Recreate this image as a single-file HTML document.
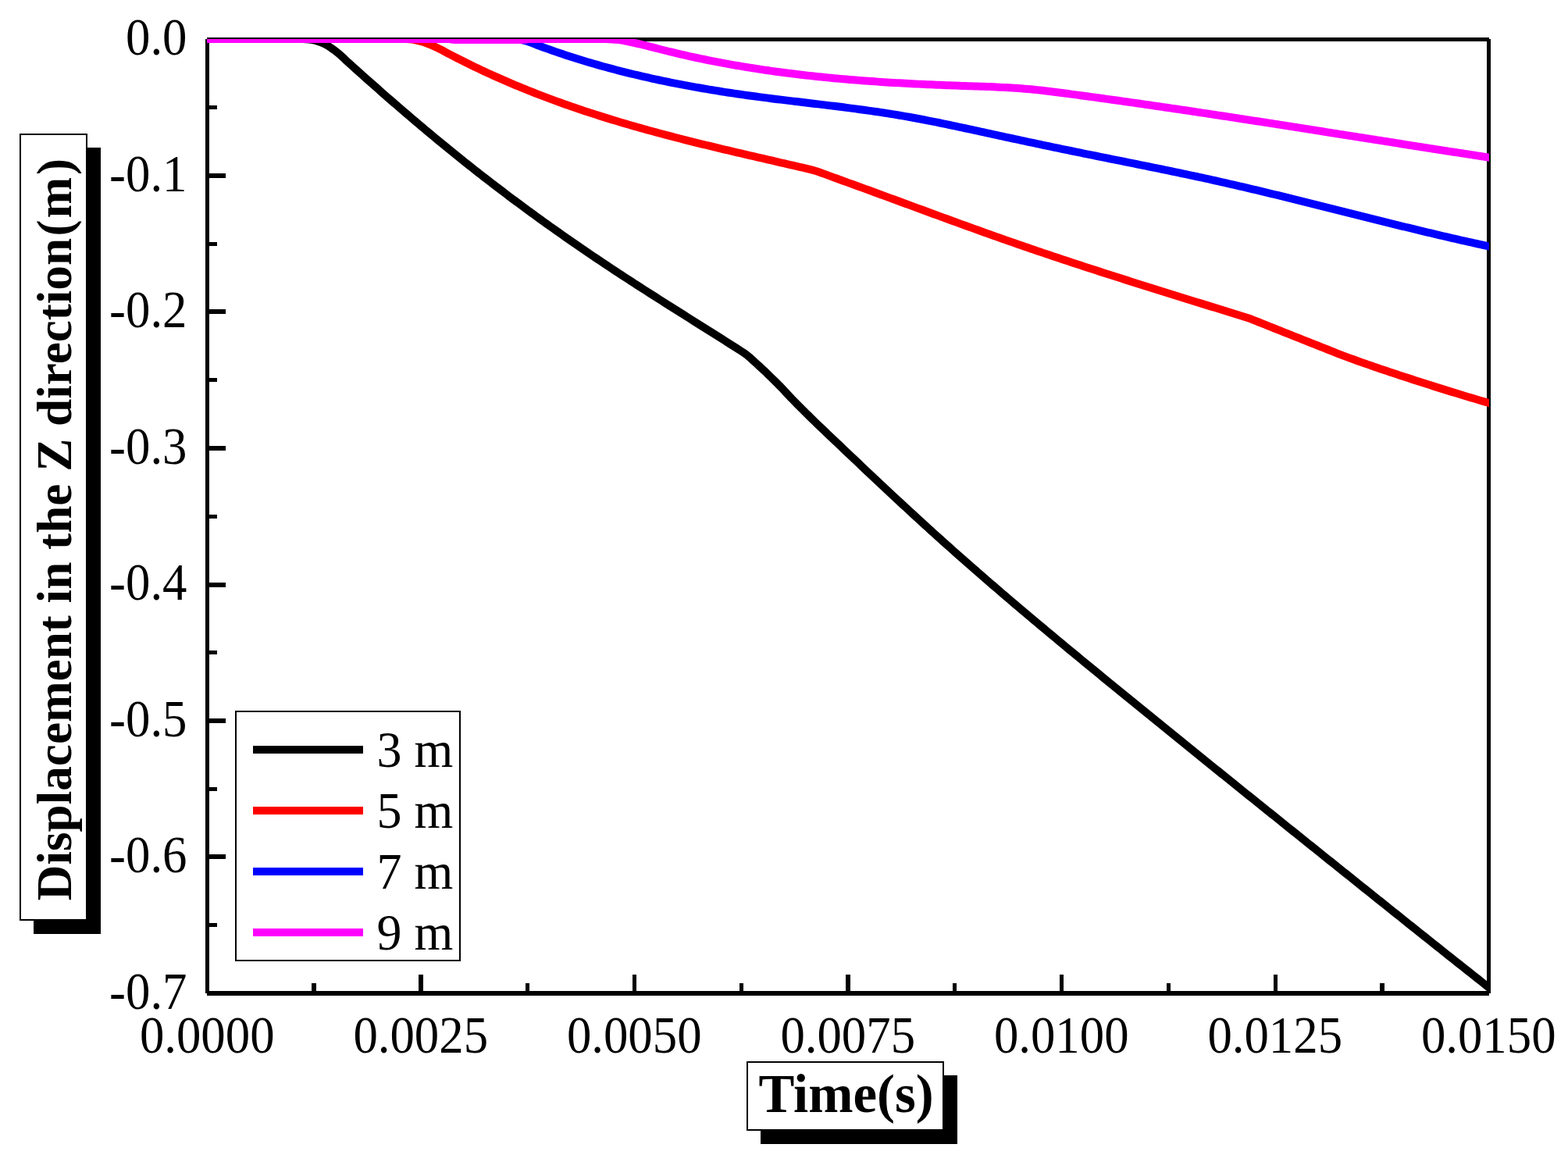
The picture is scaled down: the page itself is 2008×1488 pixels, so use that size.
<!DOCTYPE html>
<html lang="en">
<head>
<meta charset="utf-8">
<title>Displacement in the Z direction vs Time</title>
<style>
html,body{margin:0;padding:0;background:#fff;}
body{width:2008px;height:1488px;overflow:hidden;}
svg{display:block;}
text{font-family:"Liberation Serif","Times New Roman",serif;fill:#000;}
.tick{font-size:66.8px;}
.leg{font-size:65px;}
.b{font-weight:bold;}
</style>
</head>
<body>
<svg xmlns="http://www.w3.org/2000/svg" width="2008" height="1488" viewBox="0 0 2008 1488">
<rect x="0" y="0" width="2008" height="1488" fill="#fff"/>
<defs><clipPath id="plot"><rect x="265" y="50" width="1642" height="1222"/></clipPath></defs>
<g shape-rendering="crispEdges" fill="#000">
<rect x="263" y="50" width="5" height="1222"/>
<rect x="1904" y="50" width="5" height="1222"/>
<rect x="265" y="48" width="1642" height="5"/>
<rect x="265" y="1269" width="1642" height="6"/>
<rect x="268" y="135" width="10" height="5"/>
<rect x="268" y="222" width="21" height="6"/>
<rect x="268" y="310" width="10" height="5"/>
<rect x="268" y="396" width="21" height="6"/>
<rect x="268" y="484" width="10" height="5"/>
<rect x="268" y="571" width="21" height="6"/>
<rect x="268" y="659" width="10" height="5"/>
<rect x="268" y="746" width="21" height="6"/>
<rect x="268" y="833" width="10" height="5"/>
<rect x="268" y="920" width="21" height="6"/>
<rect x="268" y="1008" width="10" height="5"/>
<rect x="268" y="1094" width="21" height="6"/>
<rect x="268" y="1182" width="10" height="5"/>
<rect x="399" y="1259" width="6" height="10"/>
<rect x="536" y="1248" width="6" height="21"/>
<rect x="673" y="1259" width="5" height="10"/>
<rect x="810" y="1248" width="5" height="21"/>
<rect x="947" y="1259" width="5" height="10"/>
<rect x="1083" y="1248" width="6" height="21"/>
<rect x="1220" y="1259" width="5" height="10"/>
<rect x="1357" y="1248" width="5" height="21"/>
<rect x="1494" y="1259" width="5" height="10"/>
<rect x="1631" y="1248" width="5" height="21"/>
<rect x="1767" y="1259" width="6" height="10"/>
</g>
<g clip-path="url(#plot)" fill="none" stroke-width="10" stroke-linejoin="round" stroke-linecap="butt">
<path d="M240 50L265.5 50L384 50L388 50.03L392 50.24L396 50.59L400 51.07L404 51.95L408 53.18L412 54.62L416 56.36L420 58.67L424 61.32L428 64.13L432 67.23L436 70.61L440 74.27L443.7 77.9L448 81.78L452 85.38L456 88.98L460 92.56L464 96.14L468 99.7L472 103.26L476 106.81L480 110.34L484 113.87L488 117.39L492 120.89L496 124.39L500 127.88L504 131.35L508 134.82L512 138.27L516 141.71L520 145.15L524 148.57L528 151.98L532 155.37L536 158.76L540 162.13L544 165.5L548 168.85L552 172.18L556 175.51L560 178.82L564 182.12L568 185.41L572 188.69L576 191.95L580 195.2L584 198.43L588 201.65L592 204.86L596 208.05L600 211.24L604 214.4L608 217.56L612 220.7L616 223.82L620 226.94L624 230.04L628 233.13L632 236.2L636 239.27L640 242.31L644 245.35L648 248.38L652 251.39L656 254.39L660 257.37L664 260.35L668 263.31L672 266.26L676 269.2L680 272.13L684 275.04L688 277.95L692 280.84L696 283.72L700 286.59L704 289.45L708 292.29L712 295.13L716 297.95L720 300.76L724 303.56L728 306.36L732 309.13L736 311.9L740 314.66L744 317.41L748 320.15L752 322.88L756 325.59L760 328.3L764 331L768 333.68L772 336.36L776 339.03L780 341.68L784 344.33L788 346.97L792 349.6L796 352.22L800 354.83L804 357.43L808 360.03L812 362.62L816 365.2L820 367.77L824 370.34L828 372.91L832 375.47L836 378.02L840 380.57L844 383.11L848 385.65L852 388.19L856 390.72L860 393.25L864 395.78L868 398.3L872 400.82L876 403.34L880 405.86L884 408.38L888 410.9L892 413.42L896 415.94L900 418.46L904 420.98L908 423.5L912 426.02L916 428.54L920 431.07L924 433.6L928 436.13L932 438.67L936 441.21L940 443.75L944 446.3L948 448.85L952.3 451.6L956 454.24L960 457.57L964 461.2L968 464.83L972 468.53L976 472.22L980 475.95L984 479.81L988 483.73L992 487.66L996 491.59L1000 495.6L1004 499.95L1008 504.23L1012 508.45L1016 512.61L1020 516.72L1024 520.77L1028 524.78L1032 528.76L1036 532.69L1040 536.59L1044 540.47L1048 544.32L1052 548.15L1056 551.97L1060 555.78L1064 559.59L1068 563.39L1072 567.19L1076 570.99L1080 574.79L1084 578.59L1088 582.38L1092 586.17L1096 589.96L1100 593.74L1104 597.52L1108 601.3L1112 605.07L1116 608.84L1120 612.6L1124 616.36L1128 620.11L1132 623.86L1136 627.6L1140 631.33L1144 635.06L1148 638.79L1152 642.5L1156 646.21L1160 649.91L1164 653.61L1168 657.29L1172 660.97L1176 664.64L1180 668.3L1184 671.95L1188 675.59L1192 679.22L1196 682.85L1200 686.46L1204 690.06L1208 693.66L1212 697.24L1216 700.81L1220 704.37L1224 707.93L1228 711.47L1232 715.01L1236 718.53L1240 722.05L1244 725.56L1248 729.06L1252 732.55L1256 736.03L1260 739.5L1264 742.97L1268 746.43L1272 749.88L1276 753.32L1280 756.76L1284 760.19L1288 763.61L1292 767.02L1296 770.43L1300 773.83L1304 777.23L1308 780.62L1312 784L1316 787.37L1320 790.75L1324 794.11L1328 797.47L1332 800.82L1336 804.17L1340 807.52L1344 810.85L1348 814.19L1352 817.52L1356 820.84L1360 824.16L1364 827.48L1368 830.79L1372 834.1L1376 837.41L1380 840.71L1384 844L1388 847.3L1392 850.59L1396 853.88L1400 857.17L1404 860.45L1408 863.73L1412 867.01L1416 870.29L1420 873.56L1424 876.83L1428 880.1L1432 883.37L1436 886.64L1440 889.91L1444 893.17L1448 896.44L1452 899.7L1456 902.96L1460 906.22L1464 909.47L1468 912.73L1472 915.98L1476 919.24L1480 922.49L1484 925.74L1488 928.99L1492 932.23L1496 935.48L1500 938.73L1504 941.97L1508 945.21L1512 948.45L1516 951.69L1520 954.93L1524 958.17L1528 961.41L1532 964.64L1536 967.88L1540 971.11L1544 974.34L1548 977.57L1552 980.8L1556 984.03L1560 987.26L1564 990.49L1568 993.71L1572 996.94L1576 1000.16L1580 1003.39L1584 1006.61L1588 1009.83L1592 1013.05L1596 1016.27L1600 1019.49L1604 1022.71L1608 1025.93L1612 1029.14L1616 1032.36L1620 1035.58L1624 1038.79L1628 1042.01L1632 1045.22L1636 1048.43L1640 1051.64L1644 1054.86L1648 1058.07L1652 1061.28L1656 1064.49L1660 1067.7L1664 1070.91L1668 1074.12L1672 1077.33L1676 1080.53L1680 1083.74L1684 1086.95L1688 1090.16L1692 1093.36L1696 1096.57L1700 1099.78L1704 1102.98L1708 1106.19L1712 1109.39L1716 1112.6L1720 1115.8L1724 1119.01L1728 1122.21L1732 1125.42L1736 1128.62L1740 1131.82L1744 1135.03L1748 1138.23L1752 1141.44L1756 1144.64L1760 1147.84L1764 1151.04L1768 1154.24L1772 1157.44L1776 1160.64L1780 1163.84L1784 1167.04L1788 1170.24L1792 1173.44L1796 1176.63L1800 1179.83L1804 1183.03L1808 1186.22L1812 1189.41L1816 1192.61L1820 1195.8L1824 1198.99L1828 1202.18L1832 1205.36L1836 1208.55L1840 1211.74L1844 1214.92L1848 1218.11L1852 1221.29L1856 1224.47L1860 1227.65L1864 1230.83L1868 1234L1872 1237.18L1876 1240.35L1880 1243.53L1884 1246.7L1888 1249.86L1892 1253.03L1896 1256.2L1900 1259.36L1904 1262.52L1906.5 1264.5L1930 1283.07" stroke="#000000"/>
<path d="M240 50L265.5 50L512 50L516 50L520 50.09L524 50.26L528 50.61L532 51.32L536 52.26L540 53.3L544 54.52L548 56.02L552 57.68L556 59.39L560 61.22L564 63.17L568 65.26L572.6 67.8L576 69.59L580 71.68L584 73.74L588 75.79L592 77.81L596 79.81L600 81.78L604 83.74L608 85.68L612 87.59L616 89.49L620 91.36L624 93.22L628 95.05L632 96.87L636 98.66L640 100.44L644 102.2L648 103.93L652 105.65L656 107.35L660 109.04L664 110.7L668 112.35L672 113.98L676 115.59L680 117.19L684 118.77L688 120.33L692 121.88L696 123.4L700 124.92L704 126.41L708 127.9L712 129.36L716 130.81L720 132.25L724 133.67L728 135.08L732 136.47L736 137.85L740 139.21L744 140.56L748 141.9L752 143.22L756 144.53L760 145.83L764 147.11L768 148.38L772 149.64L776 150.89L780 152.12L784 153.35L788 154.56L792 155.76L796 156.95L800 158.13L804 159.3L808 160.46L812 161.61L816 162.75L820 163.88L824 165L828 166.11L832 167.21L836 168.3L840 169.38L844 170.46L848 171.53L852 172.59L856 173.64L860 174.69L864 175.72L868 176.75L872 177.78L876 178.79L880 179.8L884 180.81L888 181.81L892 182.8L896 183.79L900 184.77L904 185.75L908 186.72L912 187.69L916 188.65L920 189.61L924 190.57L928 191.52L932 192.47L936 193.41L940 194.35L944 195.29L948 196.23L952 197.16L956 198.09L960 199.02L964 199.95L968 200.88L972 201.8L976 202.73L980 203.65L984 204.57L988 205.49L992 206.42L996 207.34L1000 208.26L1004 209.18L1008 210.11L1012 211.03L1016 211.96L1020 212.88L1024 213.81L1028 214.74L1032 215.67L1036 216.61L1038.1 217.1L1040 217.6L1044 218.74L1048 220.02L1052 221.44L1056 222.88L1060 224.34L1064 225.82L1068 227.32L1070.6 228.3L1076 230.24L1080 231.69L1084 233.13L1088 234.58L1092 236.03L1096 237.49L1100 238.94L1104 240.4L1108 241.86L1112 243.32L1116 244.79L1120 246.25L1124 247.72L1128 249.18L1132 250.65L1136 252.12L1140 253.59L1144 255.06L1148 256.53L1152 258.01L1156 259.48L1160 260.95L1164 262.42L1168 263.9L1172 265.37L1176 266.84L1180 268.31L1184 269.78L1188 271.25L1192 272.72L1196 274.19L1200 275.66L1204 277.12L1208 278.58L1212 280.05L1216 281.51L1220 282.97L1224 284.42L1228 285.88L1232 287.33L1236 288.78L1240 290.23L1244 291.67L1248 293.11L1252 294.55L1256 295.99L1260 297.42L1264 298.85L1268 300.28L1272 301.7L1276 303.12L1280 304.53L1284 305.94L1288 307.35L1292 308.75L1296 310.15L1300 311.54L1304 312.93L1308 314.32L1312 315.7L1316 317.07L1320 318.44L1324 319.81L1328 321.17L1332 322.53L1336 323.88L1340 325.23L1344 326.58L1348 327.92L1352 329.26L1356 330.59L1360 331.92L1364 333.25L1368 334.57L1372 335.89L1376 337.21L1380 338.52L1384 339.83L1388 341.14L1392 342.44L1396 343.74L1400 345.04L1404 346.34L1408 347.63L1412 348.92L1416 350.2L1420 351.49L1424 352.77L1428 354.05L1432 355.32L1436 356.6L1440 357.87L1444 359.14L1448 360.41L1452 361.67L1456 362.94L1460 364.2L1464 365.46L1468 366.72L1472 367.97L1476 369.23L1480 370.48L1484 371.73L1488 372.98L1492 374.23L1496 375.48L1500 376.72L1504 377.97L1508 379.21L1512 380.46L1516 381.7L1520 382.94L1524 384.18L1528 385.42L1532 386.66L1536 387.9L1540 389.14L1544 390.37L1548 391.61L1552 392.85L1556 394.09L1560 395.32L1564 396.56L1568 397.8L1572 399.03L1576 400.27L1580 401.51L1584 402.75L1588 403.98L1592 405.22L1596 406.46L1600 407.7L1604 409.3L1608 410.9L1612 412.5L1616 414.1L1620 415.7L1624 417.29L1628 418.89L1632 420.49L1636 422.08L1640 423.67L1644 425.27L1648 426.86L1652 428.45L1656 430.04L1660 431.63L1664 433.22L1668 434.81L1672 436.4L1676 437.98L1680 439.57L1684 441.16L1688 442.74L1692 444.33L1696 445.92L1700 447.5L1704 449.1L1708 450.71L1712 452.31L1716 453.88L1720 455.4L1724 456.88L1728 458.35L1732 459.8L1736 461.25L1740 462.68L1744 464.1L1748 465.5L1752 466.9L1756 468.29L1760 469.67L1764 471.04L1768 472.4L1772 473.75L1776 475.09L1780 476.43L1784 477.76L1788 479.08L1792 480.4L1796 481.71L1800 483.02L1804 484.32L1808 485.62L1812 486.92L1816 488.21L1820 489.5L1824 490.79L1828 492.07L1832 493.34L1836 494.61L1840 495.87L1844 497.13L1848 498.38L1852 499.63L1856 500.87L1860 502.1L1864 503.33L1868 504.55L1872 505.76L1876 506.97L1880 508.18L1884 509.37L1888 510.57L1892 511.75L1896 512.93L1900 514.11L1904 515.27L1906.5 516L1930 522.83" stroke="#ff0000"/>
<path d="M240 50L265.5 50L568 50L572 50L576 50L580 50L584 50L588 50L592 50L596 50L600 50L604 50L608 50L612 50L616 50L620 50L624 50L628 50L632 50L636 50L640 50L644 50L648 50L652 50L656 50.08L660 50.28L664 50.57L668 51.15L672 52.02L676 53.16L680 54.53L684 56.12L686.5 57.2L692 59.24L696 60.7L700 62.15L704 63.57L708 64.97L712 66.36L716 67.72L720 69.07L724 70.39L728 71.7L732 72.99L736 74.27L740 75.52L744 76.76L748 77.98L752 79.18L756 80.36L760 81.53L764 82.68L768 83.82L772 84.94L776 86.04L780 87.12L784 88.19L788 89.25L792 90.29L796 91.31L800 92.32L804 93.32L808 94.3L812 95.26L816 96.22L820 97.15L824 98.08L828 98.99L832 99.88L836 100.77L840 101.64L844 102.5L848 103.34L852 104.17L856 104.99L860 105.8L864 106.6L868 107.38L872 108.15L876 108.91L880 109.66L884 110.4L888 111.13L892 111.85L896 112.55L900 113.25L904 113.93L908 114.6L912 115.27L916 115.92L920 116.56L924 117.2L928 117.82L932 118.44L936 119.04L940 119.64L944 120.23L948 120.81L952 121.38L956 121.94L960 122.49L964 123.04L968 123.58L972 124.11L976 124.63L980 125.15L984 125.66L988 126.17L992 126.67L996 127.17L1000 127.66L1004 128.15L1008 128.63L1012 129.12L1016 129.6L1020 130.08L1024 130.55L1028 131.03L1032 131.51L1036 131.98L1040 132.46L1044 132.93L1048 133.41L1052 133.89L1056 134.37L1060 134.86L1064 135.34L1068 135.83L1072 136.33L1076 136.83L1080 137.33L1084 137.84L1088 138.35L1092 138.88L1096 139.4L1100 139.94L1104 140.48L1108 141.03L1112 141.59L1116 142.15L1120 142.73L1124 143.31L1128 143.91L1132 144.51L1136 145.13L1140 145.76L1144 146.4L1148 147.05L1152 147.72L1156 148.4L1160 149.09L1164 149.79L1168 150.51L1172 151.25L1176 151.99L1180 152.75L1184 153.51L1188 154.29L1192 155.08L1196 155.88L1200 156.69L1204 157.5L1208 158.32L1212 159.15L1216 159.99L1220 160.83L1224 161.68L1228 162.53L1232 163.39L1236 164.25L1240 165.11L1244 165.98L1248 166.84L1252 167.71L1256 168.58L1260 169.45L1264 170.32L1268 171.19L1272 172.06L1276 172.92L1280 173.79L1284 174.65L1288 175.52L1292 176.38L1296 177.24L1300 178.1L1304 178.96L1308 179.82L1312 180.68L1316 181.53L1320 182.38L1324 183.23L1328 184.08L1332 184.93L1336 185.77L1340 186.62L1344 187.46L1348 188.29L1352 189.13L1356 189.96L1360 190.79L1364 191.62L1368 192.44L1372 193.26L1376 194.08L1380 194.9L1384 195.72L1388 196.53L1392 197.34L1396 198.15L1400 198.96L1404 199.77L1408 200.58L1412 201.38L1416 202.19L1420 202.99L1424 203.8L1428 204.6L1432 205.41L1436 206.21L1440 207.02L1444 207.82L1448 208.63L1452 209.43L1456 210.24L1460 211.05L1464 211.86L1468 212.67L1472 213.49L1476 214.3L1480 215.12L1484 215.94L1488 216.76L1492 217.59L1496 218.41L1500 219.24L1504 220.08L1508 220.91L1512 221.75L1516 222.59L1520 223.44L1524 224.29L1528 225.14L1532 226L1536 226.86L1540 227.73L1544 228.6L1548 229.48L1552 230.36L1556 231.25L1560 232.14L1564 233.04L1568 233.94L1572 234.85L1576 235.76L1580 236.68L1584 237.6L1588 238.53L1592 239.46L1596 240.39L1600 241.34L1604 242.28L1608 243.23L1612 244.18L1616 245.14L1620 246.1L1624 247.06L1628 248.02L1632 248.99L1636 249.97L1640 250.94L1644 251.92L1648 252.9L1652 253.88L1656 254.87L1660 255.85L1664 256.84L1668 257.84L1672 258.83L1676 259.82L1680 260.82L1684 261.82L1688 262.82L1692 263.82L1696 264.82L1700 265.82L1704 266.82L1708 267.83L1712 268.83L1716 269.83L1720 270.84L1724 271.84L1728 272.85L1732 273.85L1736 274.85L1740 275.86L1744 276.86L1748 277.86L1752 278.86L1756 279.86L1760 280.86L1764 281.86L1768 282.85L1772 283.85L1776 284.84L1780 285.83L1784 286.82L1788 287.8L1792 288.79L1796 289.77L1800 290.75L1804 291.72L1808 292.7L1812 293.67L1816 294.64L1820 295.6L1824 296.56L1828 297.52L1832 298.47L1836 299.42L1840 300.37L1844 301.31L1848 302.25L1852 303.18L1856 304.11L1860 305.03L1864 305.95L1868 306.87L1872 307.78L1876 308.68L1880 309.58L1884 310.48L1888 311.37L1892 312.25L1896 313.13L1900 314L1904 314.86L1906.5 315.4L1930 320.45" stroke="#0000ff"/>
<path d="M240 50L265.5 50L568 50L572 50L576 50L580 50.84L584 51L588 51L592 51L596 51L600 51L604 51L608 51L612 51L616 51L620 51L624 51L628 51L632 51L636 51L640 51L644 51L648 51L652 51L656 51L660 51L664 51L668 51L672 50.84L676 50L680 50L684 50L688 50L692 50L696 50L700 50L704 50L708 50L712 50L716 50L720 50L724 50L728 50L732 50L736 50L740 50L744 50L748 50L752 50L756 50L760 50L764 50L768 50L772 50L776 50.07L780 50.21L784 50.44L788 50.75L792 51.11L796 51.67L800 52.32L804 53.12L808 54.07L812 54.9L816 55.76L820 56.64L824 57.53L826.5 58.1L832 59.59L836 60.65L840 61.7L844 62.73L848 63.75L852 64.76L856 65.74L860 66.72L864 67.68L868 68.62L872 69.55L876 70.47L880 71.37L884 72.26L888 73.14L892 74L896 74.85L900 75.68L904 76.5L908 77.31L912 78.1L916 78.88L920 79.65L924 80.41L928 81.15L932 81.88L936 82.6L940 83.31L944 84L948 84.68L952 85.35L956 86.01L960 86.66L964 87.29L968 87.92L972 88.53L976 89.13L980 89.72L984 90.3L988 90.87L992 91.43L996 91.97L1000 92.51L1004 93.04L1008 93.55L1012 94.06L1016 94.56L1020 95.04L1024 95.52L1028 95.99L1032 96.44L1036 96.89L1040 97.33L1044 97.76L1048 98.18L1052 98.59L1056 99L1060 99.39L1064 99.78L1068 100.15L1072 100.52L1076 100.89L1080 101.24L1084 101.58L1088 101.92L1092 102.25L1096 102.57L1100 102.89L1104 103.2L1108 103.5L1112 103.79L1116 104.08L1120 104.36L1124 104.63L1128 104.89L1132 105.15L1136 105.41L1140 105.65L1144 105.9L1148 106.13L1152 106.36L1156 106.58L1160 106.8L1164 107.01L1168 107.22L1172 107.42L1176 107.62L1180 107.81L1184 108L1188 108.18L1192 108.36L1196 108.53L1200 108.7L1204 108.86L1208 109.02L1212 109.18L1216 109.33L1220 109.48L1224 109.62L1228 109.76L1232 109.9L1236 110.03L1240 110.16L1244 110.29L1248 110.42L1252 110.54L1256 110.66L1260 110.77L1264 110.89L1268 111L1272 111.21L1276 111.42L1280 111.64L1284 111.87L1288 112.1L1292 112.34L1296 112.58L1300 112.84L1304 113.1L1308 113.36L1312 113.64L1316 113.94L1320 114.28L1324 114.71L1328 115.15L1332 115.56L1336 115.99L1340 116.46L1344 116.97L1348 117.51L1352 118.07L1356 118.56L1360 119L1364 119.53L1368 120.06L1372 120.59L1376 121.12L1380 121.66L1384 122.2L1388 122.74L1392 123.28L1396 123.83L1400 124.37L1404 124.92L1408 125.47L1412 126.02L1416 126.58L1420 127.13L1424 127.69L1428 128.25L1432 128.81L1436 129.38L1440 129.94L1444 130.51L1448 131.08L1452 131.65L1456 132.22L1460 132.79L1464 133.37L1468 133.94L1472 134.52L1476 135.1L1480 135.68L1484 136.27L1488 136.85L1492 137.44L1496 138.02L1500 138.61L1504 139.2L1508 139.79L1512 140.38L1516 140.98L1520 141.57L1524 142.17L1528 142.77L1532 143.37L1536 143.97L1540 144.57L1544 145.17L1548 145.77L1552 146.38L1556 146.98L1560 147.59L1564 148.2L1568 148.81L1572 149.42L1576 150.03L1580 150.64L1584 151.25L1588 151.87L1592 152.48L1596 153.09L1600 153.71L1604 154.33L1608 154.95L1612 155.56L1616 156.18L1620 156.8L1624 157.42L1628 158.04L1632 158.67L1636 159.29L1640 159.91L1644 160.54L1648 161.16L1652 161.79L1656 162.41L1660 163.04L1664 163.66L1668 164.29L1672 164.92L1676 165.54L1680 166.17L1684 166.8L1688 167.43L1692 168.06L1696 168.69L1700 169.32L1704 169.95L1708 170.58L1712 171.21L1716 171.84L1720 172.47L1724 173.1L1728 173.73L1732 174.36L1736 174.99L1740 175.62L1744 176.25L1748 176.88L1752 177.51L1756 178.14L1760 178.77L1764 179.4L1768 180.03L1772 180.66L1776 181.29L1780 181.92L1784 182.55L1788 183.18L1792 183.81L1796 184.44L1800 185.07L1804 185.69L1808 186.32L1812 186.95L1816 187.58L1820 188.2L1824 188.83L1828 189.45L1832 190.08L1836 190.7L1840 191.33L1844 191.95L1848 192.57L1852 193.2L1856 193.82L1860 194.44L1864 195.06L1868 195.68L1872 196.3L1876 196.92L1880 197.53L1884 198.15L1888 198.76L1892 199.38L1896 199.99L1900 200.61L1904 201.22L1906.5 201.6L1930 205.19" stroke="#ff00ff"/>
</g>
<g class="tick" text-anchor="end">
<text transform="translate(239.5,70.1) scale(0.94,1)">0.0</text>
<text transform="translate(239.5,244.6) scale(0.94,1)">-0.1</text>
<text transform="translate(239.5,419.1) scale(0.94,1)">-0.2</text>
<text transform="translate(239.5,593.6) scale(0.94,1)">-0.3</text>
<text transform="translate(239.5,768.1) scale(0.94,1)">-0.4</text>
<text transform="translate(239.5,942.6) scale(0.94,1)">-0.5</text>
<text transform="translate(239.5,1117.1) scale(0.94,1)">-0.6</text>
<text transform="translate(239.5,1291.6) scale(0.94,1)">-0.7</text>
</g>
<g class="tick" text-anchor="middle">
<text transform="translate(265.2,1347.8) scale(0.94,1)">0.0000</text>
<text transform="translate(538.7,1347.8) scale(0.94,1)">0.0025</text>
<text transform="translate(812.2,1347.8) scale(0.94,1)">0.0050</text>
<text transform="translate(1085.7,1347.8) scale(0.94,1)">0.0075</text>
<text transform="translate(1359.2,1347.8) scale(0.94,1)">0.0100</text>
<text transform="translate(1632.7,1347.8) scale(0.94,1)">0.0125</text>
<text transform="translate(1906.2,1347.8) scale(0.94,1)">0.0150</text>
</g>
<rect x="43" y="189" width="86" height="1007" fill="#000" shape-rendering="crispEdges"/>
<rect x="26" y="172" width="85" height="1006" fill="#fff" stroke="#000" stroke-width="2" shape-rendering="crispEdges"/>
<text class="b" transform="translate(90.8,1153.2) rotate(-90)" font-size="63.2">Displacement in the Z direction<tspan dx="2.3 2 3">(m)</tspan></text>
<rect x="974" y="1377" width="252" height="88" fill="#000" shape-rendering="crispEdges"/>
<rect x="957" y="1360" width="251" height="87" fill="#fff" stroke="#000" stroke-width="2" shape-rendering="crispEdges"/>
<text class="b" transform="translate(971.4,1423.5) scale(0.99,1)" font-size="69.5">Time(s)</text>
<rect x="302" y="911" width="287" height="319" fill="#fff" stroke="#000" stroke-width="2" shape-rendering="crispEdges"/>
<g shape-rendering="crispEdges">
<rect x="324" y="955" width="141" height="10" fill="#000000"/>
<rect x="324" y="1033" width="141" height="10" fill="#ff0000"/>
<rect x="324" y="1111" width="141" height="10" fill="#0000ff"/>
<rect x="324" y="1189" width="141" height="10" fill="#ff00ff"/>
</g>
<g class="leg">
<text transform="translate(482.5,982.2) scale(0.985,1)">3 m</text>
<text transform="translate(482.5,1060.2) scale(0.985,1)">5 m</text>
<text transform="translate(482.5,1138.2) scale(0.985,1)">7 m</text>
<text transform="translate(482.5,1216.2) scale(0.985,1)">9 m</text>
</g>
</svg>
</body>
</html>
